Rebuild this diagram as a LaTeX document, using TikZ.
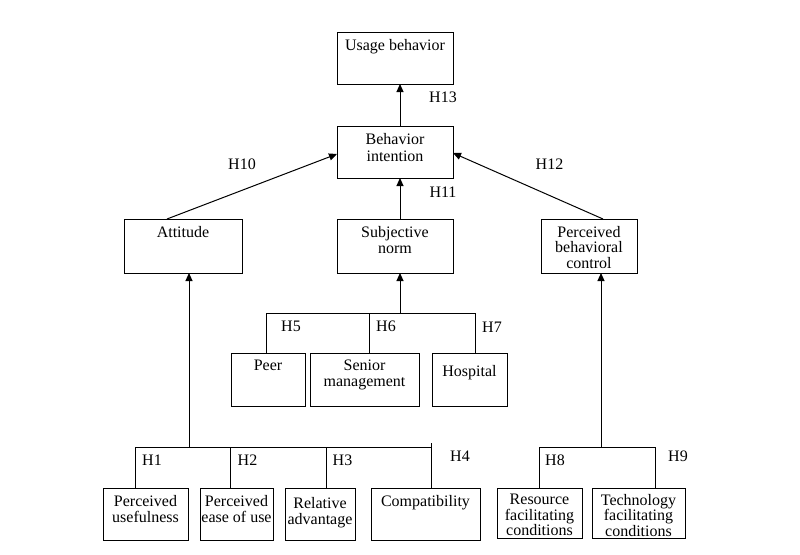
\documentclass[tikz,border=0pt]{standalone}
\usepackage{fontspec}
\setmainfont{Liberation Serif}
\usetikzlibrary{arrows.meta}
\begin{document}
\begin{tikzpicture}[x=1pt,y=-1pt,
 box/.style={draw, line width=1pt, inner sep=0pt, outer sep=0pt},
 txt/.style={inner sep=0pt, align=center, font=\fontsize{16}{16}\selectfont, anchor=north},
 txtb/.style={txt, font=\fontsize{16}{17}\selectfont},
 txtc/.style={txt, font=\fontsize{16}{15.5}\selectfont},
 hl/.style={inner sep=0pt, font=\fontsize{16}{16}\selectfont},
 ln/.style={line width=1pt},
 arr/.style={line width=1pt, -{Triangle[length=8pt,width=7pt]}}]
\useasboundingbox (0,0) rectangle (800,554);
\fill[white] (0,0) rectangle (800,554);

% boxes
\node[box, minimum width=116pt, minimum height=52pt] (ub) at (395,58) {};
\node[box, minimum width=116pt, minimum height=52pt] (bi) at (395,152) {};
\node[box, minimum width=118pt, minimum height=54pt] (att) at (183,246) {};
\node[box, minimum width=116pt, minimum height=54pt] (sn) at (395,246) {};
\node[box, minimum width=96pt, minimum height=54pt] (pbc) at (589,246) {};
\node[box, minimum width=74pt, minimum height=53pt] (peer) at (268,379.5) {};
\node[box, minimum width=109pt, minimum height=53pt] (sm) at (364.5,379.5) {};
\node[box, minimum width=75pt, minimum height=53pt] (hosp) at (469.5,379.5) {};
\node[box, minimum width=85pt, minimum height=52pt] (pu) at (145.5,514) {};
\node[box, minimum width=73pt, minimum height=52pt] (peou) at (236.5,514) {};
\node[box, minimum width=70pt, minimum height=52pt] (ra) at (320,514) {};
\node[box, minimum width=109pt, minimum height=52pt] (comp) at (425.5,514) {};
\node[box, minimum width=85pt, minimum height=50pt] (rfc) at (539.5,513) {};
\node[box, minimum width=93pt, minimum height=50pt] (tfc) at (638.5,513) {};

% texts
\node[txt] (tub) at (395,39) {Usage behavior};
\node[txtb] (tbi) at (395,133) {Behavior\\intention};
\node[txt] (tatt) at (183,226) {Attitude};
\node[txt] (tsn) at (395,226) {Subjective\\norm};
\node[txtc] (tpbc) at (589,226) {Perceived\\behavioral\\control};
\node[txt] (tpeer) at (268,360) {Peer};
\node[txt] (tsm) at (364.5,360) {Senior\\management};
\node[txt] (thosp) at (469.5,365) {Hospital};
\node[txt] (tpu) at (145.5,495) {Perceived\\usefulness};
\node[txt] (tpeou) at (236.5,495) {Perceived\\ease of use};
\node[txt] (tra) at (320,497) {Relative\\advantage};
\node[txt] (tcomp) at (425.5,495) {Compatibility};
\node[txtc] (trfc) at (539.5,494) {Resource\\facilitating\\conditions};
\node[txtc] (ttfc) at (638.5,494) {Technology\\facilitating\\conditions};

% top arrows
\draw[arr] ([xshift=5pt]bi.north) -- ([xshift=5pt]ub.south);
\draw[arr] ([xshift=5pt]sn.north) -- ([xshift=5pt]bi.south);
\draw[arr] ([xshift=-16pt]att.north) -- ([yshift=-2pt]bi.west);
\draw[arr] ([xshift=14pt]pbc.north) -- ([yshift=-1pt]bi.east);

% subjective norm tree
\coordinate (snj) at (400,313);
\coordinate (snl) at (266,313);
\coordinate (snm) at (369,313);
\coordinate (snr) at (475,313);
\draw[arr] (snj) -- (snj |- sn.south);
\draw[ln] (snl |- peer.north) -- (snl) -- (snr) -- (snr |- hosp.north);
\draw[ln] (snm) -- (snm |- sm.north);

% attitude tree
\coordinate (aj) at (189,447);
\coordinate (a1) at (135,447);
\coordinate (a2) at (230,447);
\coordinate (a3) at (326,447);
\coordinate (a4) at (431,447);
\coordinate (a4t) at (431,443);
\draw[arr] (aj) -- (aj |- att.south);
\draw[ln] (a1 |- pu.north) -- (a1) -- (a4);
\draw[ln] (a4t) -- (a4t |- comp.north);
\draw[ln] (a2) -- (a2 |- peou.north);
\draw[ln] (a3) -- (a3 |- ra.north);

% pbc tree
\coordinate (pj) at (601,447);
\coordinate (p1) at (539,447);
\coordinate (p2) at (655,447);
\draw[arr] (pj) -- (pj |- pbc.south);
\draw[ln] (p1 |- rfc.north) -- (p1) -- (p2) -- (p2 |- tfc.north);

% hypothesis labels
\node[hl] (h13) at (443,97) {H13};
\node[hl] (h11) at (443,192) {H11};
\node[hl] (h10) at (242,164) {H10};
\node[hl] (h12) at (549.5,164) {H12};
\node[hl] (h5) at (291,326) {H5};
\node[hl] (h6) at (386,326) {H6};
\node[hl] (h7) at (492,327) {H7};
\node[hl] (h1) at (152,460) {H1};
\node[hl] (h2) at (247.5,460) {H2};
\node[hl] (h3) at (342.5,460) {H3};
\node[hl] (h4) at (460,456) {H4};
\node[hl] (h8) at (555,460) {H8};
\node[hl] (h9) at (678,456) {H9};
\end{tikzpicture}
\end{document}
